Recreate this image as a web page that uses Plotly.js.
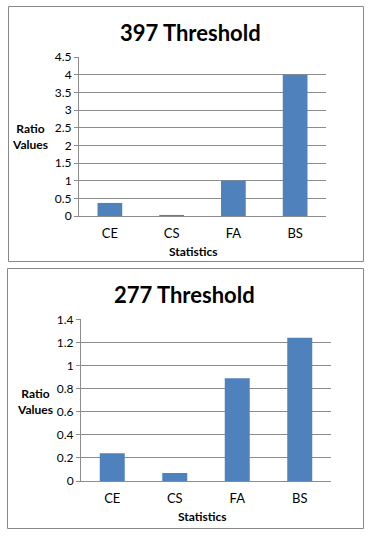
<!DOCTYPE html>
<html>
<head>
<meta charset="utf-8">
<script src="https://cdn.plot.ly/plotly-3.0.1.min.js"></script>
<style>html,body{margin:0;padding:0;background:#fff;}#chart{width:371px;height:536px;}</style>
</head>
<body>
<div id="chart"></div>
<script>
var categories = ["CE", "CS", "FA", "BS"];
var values397 = [0.37, 0.03, 1.0, 4.0];
var values277 = [0.24, 0.07, 0.89, 1.24];
var title397 = "397 Threshold";
var title277 = "277 Threshold";
var xTitle = "Statistics";
var yTitle = "Ratio<br>Values";

var W = 371, H = 536;
function px(x) { return x / W; }
function py(y) { return 1 - y / H; }

var FONT = "Lato, 'Open Sans', sans-serif";
var barColor = "#4F81BD";
var gridColor = "#8c8c8c";

var traces = [
  {type: "bar", x: categories, y: values397, xaxis: "x", yaxis: "y", marker: {color: barColor}, hoverinfo: "none"},
  {type: "bar", x: categories, y: values277, xaxis: "x2", yaxis: "y2", marker: {color: barColor}, hoverinfo: "none"}
];

function xax(domain, anchor) {
  return {domain: domain, anchor: anchor, showline: true, linecolor: gridColor, linewidth: 1,
    ticks: "", tickfont: {family: FONT, size: 13, color: "#000"}, fixedrange: true, ticklabelstandoff: 5};
}
function yax(domain, anchor, range, dtick) {
  return {domain: domain, anchor: anchor, range: range, dtick: dtick, showline: true, linecolor: gridColor,
    linewidth: 1, showgrid: true, gridcolor: gridColor, gridwidth: 1, ticks: "outside", ticklen: 4,
    tickcolor: gridColor, tickfont: {family: FONT, size: 12, color: "#000"}, zeroline: false, fixedrange: true};
}

var layout = {
  width: W, height: H,
  margin: {l: 0, r: 0, t: 0, b: 0},
  paper_bgcolor: "#fff", plot_bgcolor: "#fff",
  showlegend: false,
  bargap: 0.6,
  xaxis: xax([px(79), px(326)], "y"),
  yaxis: yax([py(216), py(57)], "x", [0, 4.5], 0.5),
  xaxis2: xax([px(81), px(331)], "y2"),
  yaxis2: yax([py(481), py(319.3)], "x2", [0, 1.4], 0.2),
  shapes: [
    {type: "rect", xref: "paper", yref: "paper", x0: px(8.5), x1: px(363.5), y0: py(261.5), y1: py(6.5), line: {color: "#888", width: 1}},
    {type: "rect", xref: "paper", yref: "paper", x0: px(7.5), x1: px(363.5), y0: py(528.5), y1: py(268.5), line: {color: "#888", width: 1}}
  ],
  annotations: [
    {text: "<b>" + title397 + "</b>", x: px(190), y: py(33), xref: "paper", yref: "paper", showarrow: false, font: {family: FONT, size: 22, color: "#000"}, xanchor: "center", yanchor: "middle"},
    {text: "<b>" + title277 + "</b>", x: px(184), y: py(294), xref: "paper", yref: "paper", showarrow: false, font: {family: FONT, size: 22, color: "#000"}, xanchor: "center", yanchor: "middle"},
    {text: "<b>" + xTitle + "</b>", x: px(193), y: py(251), xref: "paper", yref: "paper", showarrow: false, font: {family: FONT, size: 12, color: "#000"}, xanchor: "center", yanchor: "middle"},
    {text: "<b>" + xTitle + "</b>", x: px(202), y: py(516), xref: "paper", yref: "paper", showarrow: false, font: {family: FONT, size: 12, color: "#000"}, xanchor: "center", yanchor: "middle"},
    {text: "<b>" + yTitle + "</b>", x: px(30), y: py(136.5), xref: "paper", yref: "paper", showarrow: false, font: {family: FONT, size: 12, color: "#000"}, xanchor: "center", yanchor: "middle", align: "center"},
    {text: "<b>" + yTitle + "</b>", x: px(35), y: py(401), xref: "paper", yref: "paper", showarrow: false, font: {family: FONT, size: 12, color: "#000"}, xanchor: "center", yanchor: "middle", align: "center"}
  ]
};

Plotly.newPlot("chart", traces, layout, {displayModeBar: false, staticPlot: true});
</script>
</body>
</html>
